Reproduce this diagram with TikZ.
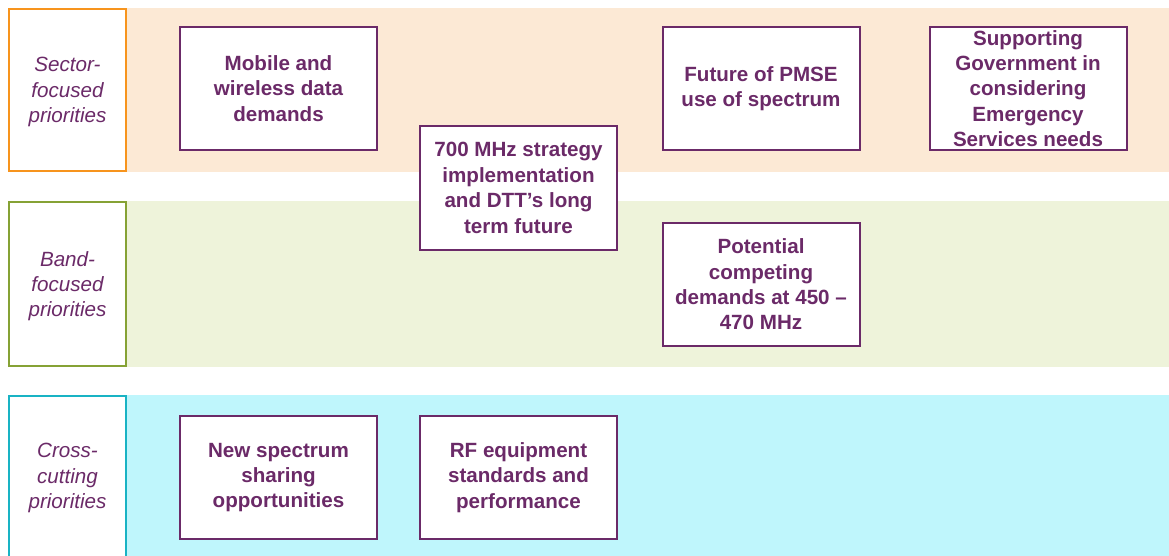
\documentclass[tikz,border=0pt]{standalone}
\usepackage{fontspec}
\setmainfont{Liberation Sans}
\definecolor{ofpurple}{HTML}{6B2A68}
\definecolor{ororange}{HTML}{F7941D}
\definecolor{orfill}{HTML}{FCE9D5}
\definecolor{grline}{HTML}{86A235}
\definecolor{grfill}{HTML}{EEF3DA}
\definecolor{cyline}{HTML}{19B3C4}
\definecolor{cyfill}{HTML}{BFF6FC}
\begin{document}
\begin{tikzpicture}[x=1pt,y=-1pt,
  prio/.style={draw=ofpurple,line width=2pt,fill=white,minimum width=197pt,minimum height=123pt,
    inner sep=0pt,align=center,text=ofpurple,font=\fontsize{20.6}{25.4}\selectfont\bfseries},
  lbl/.style={line width=2pt,fill=white,minimum width=117pt,inner sep=0pt,align=center,
    text=ofpurple,font=\fontsize{20.6}{25.2}\selectfont\itshape}]
\useasboundingbox (0,0) rectangle (1169,556);
% bands
\fill[orfill] (127,8) rectangle (1169,172);
\fill[grfill] (127,201) rectangle (1169,367);
\fill[cyfill] (127,395) rectangle (1169,556);
% label boxes
\node[lbl,draw=ororange,minimum height=162pt] (sector) at (67.5,90) {};
\node[lbl,draw=grline,minimum height=164pt] (band) at (67.5,284) {};
\node[lbl,draw=cyline,minimum height=165pt] (cross) at (67.5,478.5) {};
\node[lbl,fill=none] (sectort) at (67.5,92) {Sector-\\focused\\priorities};
\node[lbl,fill=none] (bandt) at (67.5,286) {Band-\\focused\\priorities};
\node[lbl,fill=none] (crosst) at (67.5,478) {Cross-\\cutting\\priorities};
% priority boxes
\node[prio] (mobile) at (278.5,88.5) {Mobile and\\wireless data\\demands};
\node[prio] (pmse) at (761,88.5) {Future of PMSE\\use of spectrum};
\node[prio] (gov) at (1028,88.5) {Supporting\\Government in\\considering\\Emergency\\Services needs};
\node[prio] (mhz) at (518.5,188) {700 MHz strategy\\implementation\\and DTT’s long\\term future};
\node[prio] (comp) at (761,284.5) {Potential\\competing\\demands at 450 –\\470 MHz};
\node[prio] (share) at (278.5,477.5) {New spectrum\\sharing\\opportunities};
\node[prio] (rf) at (518.5,477.5) {RF equipment\\standards and\\performance};
\end{tikzpicture}
\end{document}
